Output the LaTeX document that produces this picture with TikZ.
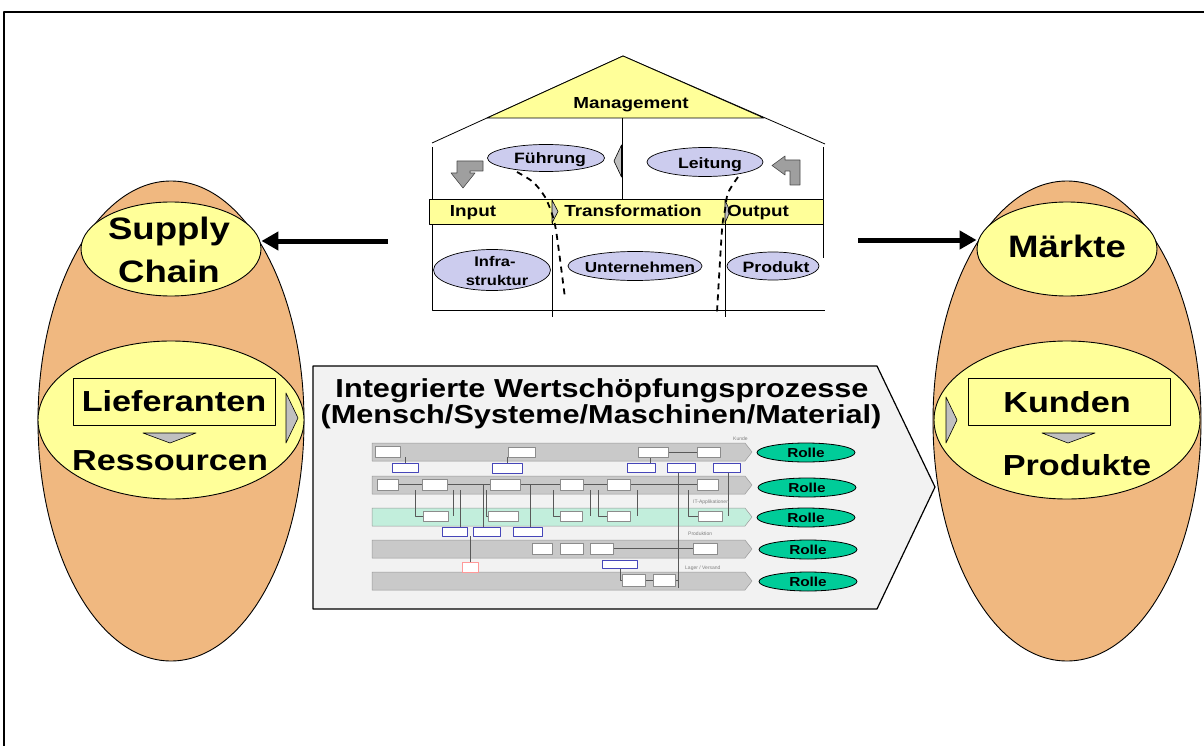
\documentclass[tikz,border=0pt]{standalone}
\usepackage{fontspec}
\setmainfont{Liberation Sans}
\usepackage{graphicx}
\usetikzlibrary{shapes.geometric,arrows.meta}
\definecolor{org}{HTML}{F0B880}
\definecolor{yel}{HTML}{FFFF99}
\definecolor{lav}{HTML}{CCCCEE}
\definecolor{tea}{HTML}{00CC99}
\definecolor{pan}{HTML}{F2F2F2}
\definecolor{tri}{HTML}{C0C0C0}
\definecolor{lane}{HTML}{C9C9C9}
\definecolor{lanegr}{HTML}{C2EEDC}
\newcommand\hsc[1]{\scalebox{1.18}[1]{#1}}
\newcommand\fsz[1]{\fontsize{#1}{#1}\selectfont\bfseries}
\begin{document}
\begin{tikzpicture}[x=1pt,y=-1pt,line join=round,
  bigell/.style={ellipse,draw,fill=org,line width=0.9pt,inner sep=0pt},
  yell/.style={ellipse,draw,fill=yel,line width=0.9pt,inner sep=0pt},
  lavell/.style={ellipse,draw,fill=lav,line width=0.7pt,inner sep=0pt},
  rolle/.style={ellipse,draw,fill=tea,line width=0.8pt,inner sep=0pt,minimum width=98pt,minimum height=19pt},
  lbl/.style={anchor=base,inner sep=0pt,font=\fsz{#1}},
  hline/.style={line width=0.8pt},
  bigarrow/.style={line width=5pt,-{Triangle[length=17pt,width=18pt]}},
  grtri/.style={fill=tri,draw,line width=0.6pt},
  lshape/.style={fill=gray!75,draw=black!70,line width=0.6pt},
  dashcurve/.style={line width=1.8pt,dash pattern=on 6pt off 5pt},
  lanebar/.style={draw=black!40,line width=0.5pt},
  minibox/.style={fill=white,draw=black!45,line width=0.5pt},
  bluebox/.style={fill=white,draw=blue!45!gray,line width=0.5pt},
  conn/.style={draw=black!65,line width=0.6pt},
  tinytxt/.style={inner sep=0pt,text=black!50,font=\fontsize{5}{5}\selectfont,anchor=west}
]
\useasboundingbox (0,0) rectangle (1204,746);
\fill[white] (0,0) rectangle (1204,746);
\draw[line width=2.5pt] (4,12) rectangle (1230,780);

% ---------- left column ----------
\node[bigell,minimum width=266pt,minimum height=480pt] (lbig) at (171,421) {};
\node[yell,minimum width=180pt,minimum height=94pt] (sc) at (171,249) {};
\node[yell,minimum width=266pt,minimum height=158pt] (lr) at (171,420) {};
\node[fill=yel,draw,hline,minimum width=202pt,minimum height=47pt,inner sep=0pt] (lbox) at (174,401.5) {};
\node[lbl=31] (tsup) at (169,239) {\hsc{Supply}};
\node[lbl=31] (tcha) at (169,282) {\hsc{Chain}};
\node[lbl=29] (tlief) at (174,411) {\hsc{Lieferanten}};
\node[lbl=29] (tres) at (170,470) {\hsc{Ressourcen}};
\draw[grtri] (143,433) -- (196,433) -- (170,443) -- cycle;
\draw[grtri] (286,393) -- (298,418) -- (286,443) -- cycle;

% ---------- right column ----------
\node[bigell,minimum width=268pt,minimum height=480pt] (rbig) at (1067,421) {};
\node[yell,minimum width=180pt,minimum height=94pt] (mk) at (1067,249) {};
\node[yell,minimum width=266pt,minimum height=158pt] (kp) at (1067,420) {};
\node[fill=yel,draw,hline,minimum width=202pt,minimum height=47pt,inner sep=0pt] (kbox) at (1069,401.5) {};
\node[lbl=31] (tmk) at (1067,257) {\hsc{Märkte}};
\node[lbl=29] (tkun) at (1067,412) {\hsc{Kunden}};
\node[lbl=29] (tprd) at (1077,475) {\hsc{Produkte}};
\draw[grtri] (1042,433) -- (1095,433) -- (1068,443) -- cycle;
\draw[grtri] (946,397) -- (957,420) -- (946,443) -- cycle;

% ---------- arrows ----------
\coordinate (la) at (388,241);
\draw[bigarrow] (la) -- (sc.east |- la);
\coordinate (ra) at (858,240);
\draw[bigarrow] (ra) -- (mk.west |- ra);

% ---------- house ----------
\draw[hline] (432,143) -- (623,56) -- (825,144);
\draw[hline,fill=yel] (623,56) -- (487,118) -- (764,118) -- cycle;
\draw[hline] (432,147) -- (432,199);
\draw[hline] (823,147) -- (823,199);
\draw[hline] (622,118) -- (622,199);
\draw[hline,fill=yel] (429,199) rectangle (823,224);
\draw[hline] (552,199) -- (552,224);
\draw[hline] (725,199) -- (725,224);
\draw[hline] (823,224) -- (823,258);
\draw[hline] (432,224) -- (432,310) -- (825,310);
\draw[hline] (552,235) -- (552,317);
\draw[hline] (725,224) -- (725,317);
\draw[grtri] (552,200) -- (558,211.5) -- (552,223) -- cycle;
\draw[grtri] (725,200) -- (730,211.5) -- (725,223) -- cycle;
\draw[grtri] (621.5,145) -- (614,161) -- (621.5,177) -- cycle;

\node[lbl=16] (tman) at (631,109) {\hsc{Management}};
\node[lbl=16] (tin) at (473,216) {\hsc{Input}};
\node[lbl=16] (ttr) at (633,216) {\hsc{Transformation}};
\node[lbl=16] (tout) at (758,216) {\hsc{Output}};

\node[lavell,minimum width=117pt,minimum height=27pt] (fue) at (546,158) {};
\node[lavell,minimum width=116pt,minimum height=29pt] (lei) at (705,162) {};
\node[lavell,minimum width=117pt,minimum height=41pt] (inf) at (492,270) {};
\node[lavell,minimum width=134pt,minimum height=29pt] (unt) at (635,266) {};
\node[lavell,minimum width=92pt,minimum height=28pt] (pro) at (773,266) {};
\node[lbl=15] (tfue) at (550,164) {\hsc{Führung}};
\node[lbl=15] (tlei) at (710,169) {\hsc{Leitung}};
\node[lbl=14] (tinf1) at (495,266) {\hsc{Infra-}};
\node[lbl=14] (tinf2) at (497,285) {\hsc{struktur}};
\node[lbl=14.5] (tunt) at (640,272) {\hsc{Unternehmen}};
\node[lbl=15] (tpro) at (776,272) {\hsc{Produkt}};

\draw[lshape] (483,161) -- (483,171) -- (470,171) -- (470,173) -- (475,173) -- (463,188) -- (451,173) -- (457,173) -- (457,161) -- cycle;
\draw[lshape] (772,165.5) -- (785,156) -- (785,160) -- (800,160) -- (800,185) -- (790,185) -- (790,171) -- (785,171) -- (785,175) -- cycle;

\draw[dashcurve] plot[smooth] coordinates {(517,172) (533,182) (545,197) (553,217) (557,237) (565,298)};
\draw[dashcurve] plot[smooth] coordinates {(738,177) (728,193) (725,210) (722,230) (717,312)};

% ---------- process panel ----------
\draw[fill=pan,line width=1.2pt] (313,366) -- (877,366) -- (935,487) -- (877,609) -- (313,609) -- cycle;
\node[lbl=26] (tt1) at (602,397) {\hsc{Integrierte Wertschöpfungsprozesse}};
\node[lbl=26] (tt2) at (601,423) {\hsc{(Mensch/Systeme/Maschinen/Material)}};

\foreach \t/\c in {443/lane,476/lane,508/lanegr,540/lane,572/lane}
  \draw[lanebar,fill=\c] (372,\t) -- (745,\t) -- (752,\t+9) -- (745,\t+18) -- (372,\t+18) -- cycle;

% connectors
\draw[conn] (398,484.5) -- (697,484.5);
\draw[conn] (613,548) -- (693,548);
\draw[conn] (668,452) -- (697,452);
\draw[conn] (415,490) -- (415,516) -- (423,516);
\draw[conn] (453,490) -- (453,516);
\draw[conn] (460,490) -- (460,530);
\draw[conn] (483,484) -- (483,530);
\draw[conn] (486,490) -- (486,516) -- (488,516);
\draw[conn] (530,484) -- (530,527);
\draw[conn] (553,490) -- (553,516) -- (560,516);
\draw[conn] (590,490) -- (590,516);
\draw[conn] (598,490) -- (598,516) -- (607,516);
\draw[conn] (637,490) -- (637,516);
\draw[conn] (678,472) -- (678,588);
\draw[conn] (688,490) -- (688,516) -- (698,516);
\draw[conn] (728,472) -- (728,516);
\draw[conn] (405,457) -- (405,463);
\draw[conn] (507,457) -- (507,463);
\draw[conn] (650,457) -- (650,463);
\draw[conn] (470,536) -- (470,562);
\draw[conn] (620,568) -- (620,580) -- (622,580);
\draw[conn] (645,580) -- (653,580);
\draw[conn] (675,580) -- (678,580);

% mini boxes
\foreach \a/\b/\c/\d in {375/446/400/457, 508/447/535/457, 638/447/668/457, 697/447/720/457,
  377/479/398/490, 422/479/447/490, 490/479/520/490, 560/479/583/490, 607/479/630/490, 697/479/718/490,
  423/511/448/521, 488/511/518/521, 560/511/582/521, 607/511/630/521, 698/511/722/521,
  532/543/552/554, 560/543/583/554, 590/543/613/554, 693/543/717/554,
  622/574/645/586, 653/574/675/586}
  \draw[minibox] (\a,\b) rectangle (\c,\d);
\foreach \a/\b/\c/\d in {392/463/418/472, 492/463/522/473, 627/463/655/472, 667/463/695/472, 713/463/740/472,
  442/527/467/536, 473/527/500/536, 513/527/542/536, 602/560/637/568}
  \draw[bluebox] (\a,\b) rectangle (\c,\d);
\draw[fill=white,draw=red!40,line width=0.5pt] (462,562) rectangle (478,572);

\node[tinytxt] (k1) at (733,439) {Kunde};
\node[tinytxt] (k2) at (693,502) {IT-Applikationen};
\node[tinytxt] (k3) at (688,534) {Produktion};
\node[tinytxt] (k4) at (685,568) {Lager / Versand};

\foreach \i/\x/\y in {1/806/452.5, 2/807/487.5, 3/806/517.5, 4/808/549.5, 5/808/581.5}
  \node[rolle] (r\i) at (\x,\y) {\fsz{13}\hsc{Rolle}};
\end{tikzpicture}
\end{document}
